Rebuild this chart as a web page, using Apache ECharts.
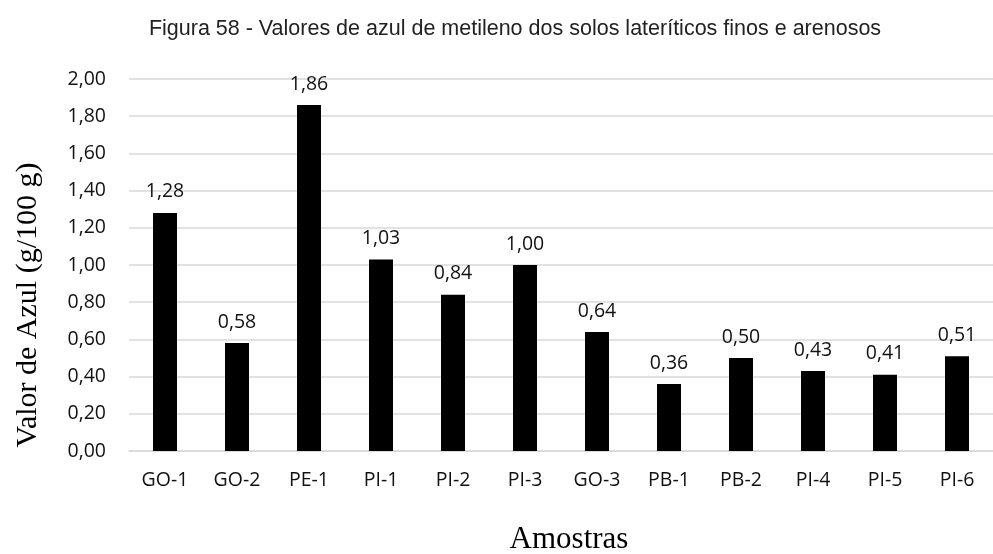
<!DOCTYPE html>
<html>
<head>
<meta charset="utf-8">
<script src="https://cdn.jsdelivr.net/npm/echarts@6/dist/echarts.min.js"></script>
<style>
  html, body { margin: 0; padding: 0; background: #fff; }
  #chart { width: 993px; height: 554px; }
</style>
</head>
<body>
<div id="chart"></div>
<script>
// amostras e valores de azul de metileno
const amostras = ['GO-1', 'GO-2', 'PE-1', 'PI-1', 'PI-2', 'PI-3', 'GO-3', 'PB-1', 'PB-2', 'PI-4', 'PI-5', 'PI-6']
const valores = [1.28, 0.58, 1.86, 1.03, 0.84, 1.00, 0.64, 0.36, 0.50, 0.43, 0.41, 0.51]

const fmt = v => v.toFixed(2).replace('.', ',')
const labelFont = 'Open Sans, Lato'
const serif = 'Liberation Serif, Times New Roman'

const myChart = echarts.init(document.getElementById('chart'))

const option = {
  animation: false,
  title: {
    text: 'Figura 58 - Valores de azul de metileno dos solos lateríticos finos e arenosos',
    left: 510,
    textAlign: 'center',
    top: 13,
    textStyle: {
      fontFamily: 'Liberation Sans Narrow, Liberation Sans, Arial',
      fontSize: 21.5,
      fontWeight: 'normal',
      color: '#222'
    }
  },
  grid: {
    left: 129,
    top: 79,
    width: 874,
    height: 372
  },
  // títulos dos eixos
  graphic: [
    {
      type: 'text',
      x: 28,
      y: 305,
      rotation: Math.PI / 2,
      style: {
        text: 'Valor de Azul (g/100 g)',
        font: '30px ' + serif,
        fill: '#000',
        textAlign: 'center',
        textVerticalAlign: 'middle'
      }
    },
    {
      type: 'text',
      x: 569,
      y: 540,
      style: {
        text: 'Amostras',
        font: '31px ' + serif,
        fill: '#000',
        textAlign: 'center',
        textVerticalAlign: 'middle'
      }
    }
  ],
  xAxis: {
    type: 'category',
    data: amostras,
    axisLine: { lineStyle: { color: '#d9d9d9', width: 1.5 } },
    axisTick: { show: false },
    axisLabel: {
      margin: 19,
      fontFamily: labelFont,
      fontSize: 19.5,
      color: '#111'
    }
  },
  yAxis: {
    type: 'value',
    min: 0,
    max: 2,
    interval: 0.2,
    axisLine: { show: false },
    axisTick: { show: false },
    splitLine: { lineStyle: { color: '#d9d9d9', width: 1.5 } },
    axisLabel: {
      margin: 23,
      fontFamily: labelFont,
      fontSize: 19.5,
      color: '#111',
      formatter: fmt
    }
  },
  series: [
    {
      type: 'bar',
      data: valores,
      barWidth: 24,
      itemStyle: { color: '#000' },
      label: {
        show: true,
        position: 'top',
        distance: 11,
        fontFamily: labelFont,
        fontSize: 19.5,
        color: '#111',
        formatter: p => fmt(p.value)
      }
    }
  ]
}

option && myChart.setOption(option)
</script>
</body>
</html>
